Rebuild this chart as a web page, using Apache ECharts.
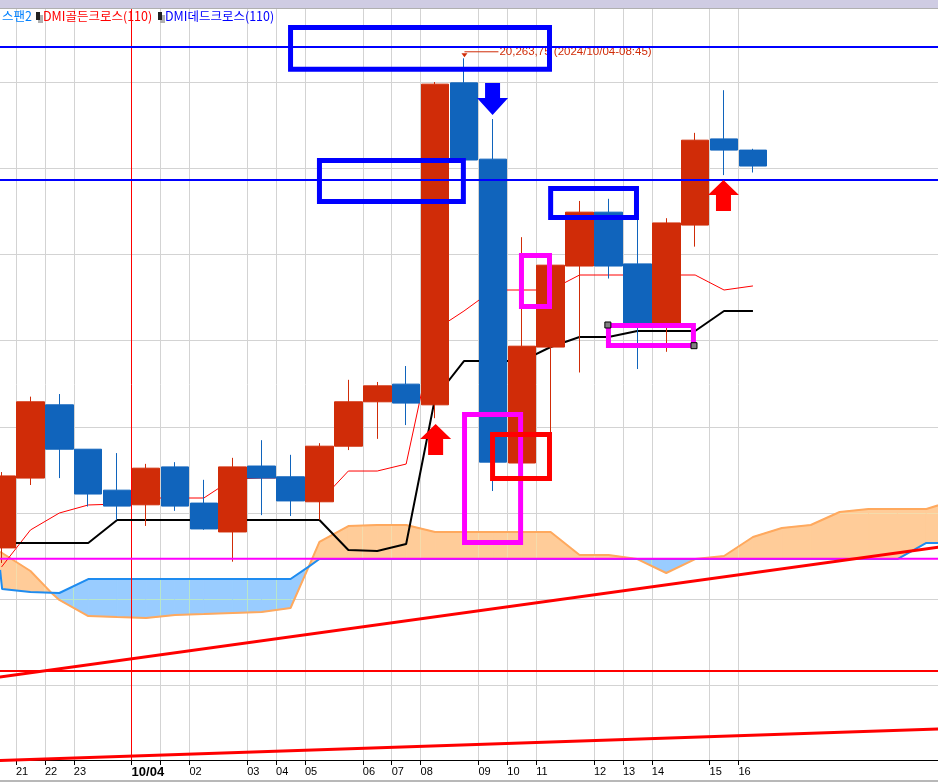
<!DOCTYPE html>
<html><head><meta charset="utf-8">
<style>html,body{margin:0;padding:0;background:#fff}#c{width:938px;height:782px}</style>
<script src="https://cdn.jsdelivr.net/npm/echarts@6/dist/echarts.min.js"></script>
</head><body><div id="c"></div>
<script>
// open, close, low, high
const candles = [
 [19979.75,20021.5,19971,20023.75],[20020.25,20064.5,20016.25,20067.5],[20062.75,20037,20020.25,20069],
 [20037,20011,20003.75,20037],[20013.25,20004,19996,20034.75],[20004.75,20026,19992.5,20028.5],
 [20026.75,20004,20001.25,20029.5],[20005.75,19990.75,19990.25,20019.25],[19989,20026.75,19971.75,20032],
 [20027.25,20020.25,19998.75,20042.25],[20021,20007,19998.25,20033.75],[20006.5,20038.75,19996,20040.5],
 [20038.75,20064.5,20036.5,20077.25],[20064.5,20073.75,20043,20076],[20074.75,20063.75,20051,20085.25],
 [20062.75,20248.75,20055,20250],[20249.5,20204.75,20204.75,20263.75],[20205.25,20029.5,20012.75,20228.5],
 [20029,20096.75,20029,20160],[20096.25,20143.75,20042.25,20143.75],[20143.25,20174.5,20081.5,20181],
 [20174.5,20143.25,20136,20182.25],[20144.5,20109.75,20083.5,20171],[20109.75,20168.25,20093.5,20171],
 [20167,20216.25,20154.5,20220.5],[20217,20210.5,20196,20245.25],[20210.5,20201.25,20197.5,20211.25]
];
const tenkan = [19968.7,19990.15,20000,20004.65,20005.2,20008.7,20008.7,20008.7,20019.7,20020.3,20020.3,20006.4,20024.35,20024.35,20028.4,20106.15,20117.15,20129.35,20129.35,20129.35,20138.05,20138.05,20138.05,20138.05,20138.05,20129.35,20131.7];
const kijun = [19982.6,19982.6,19982.6,19982.6,19995.95,19995.95,19995.95,19995.95,19995.95,19995.95,19995.95,19995.95,19978.55,19978,19982,20066.7,20088.15,20088.15,20088.15,20096.3,20102.1,20102.1,20105.55,20105.55,20105.55,20117.15,20117.15];
const cloudIdx = [-0.05,0.02,1,1.72,2,3,4,5,6,7,8,9,10,10.63,11,12,13,14,15,16,17,18,19,20,21,22,23,24,25,26,27,28,29,30,31,32,33];
const spanA = [19977.4,19976.8,19966.35,19953.8,19949.55,19940.25,19939.65,19939.1,19940.85,19941.4,19942,19942.6,19944.9,19968.9,19983.2,19992.45,19993.05,19993.05,19989,19989,19989,19989,19989,19975.65,19975.65,19973.3,19965.2,19973.3,19975.05,19986.1,19991.3,19993.05,20000.6,20002.3,20002.3,20002.3,20007.55];
const spanB = [19966.95,19955.9,19954.2,19953.8,19953.6,19961.7,19961.7,19961.7,19961.7,19961.7,19961.7,19961.7,19961.7,19968.9,19973.3,19973.3,19973.3,19973.3,19973.3,19973.3,19973.3,19973.3,19973.3,19973.3,19973.3,19973.3,19973.3,19973.3,19973.3,19973.3,19973.3,19973.3,19973.3,19973.3,19973.3,19982.6,19982.6];
// null: no tick, '': tick without a label
const hourLabels = [null,'21','22','23',null,'{b|10/04}','','02',null,'03','04','05',null,'06','07','08',null,'09','10','11',null,'12','13','14',null,'15','16',null,null,null,null,null,null,null];
const priceLevels = [19900,19950,20000,20050,20100,20150,20200,20250];
const hLinesBlue = [20270.3,20193.15];
const hLineMagenta = [19973.5];
const hLineRed = [19908.35];
const trendA = [[-0.5,19903.85],[32.5,19980.35]];
const trendB = [[-0.5,19856.15],[32.5,19874.7]];
const daySeparator = [[4.497,19856.7],[4.497,20292.3]];
const rectsBlue = [[10,20281.6,18.96,20257.4],[11,20204.45,15.98,20180.7],[19,20188.2,21.97,20171.4]];
const rectsMagenta = [[17.99,20149.35,18.96,20119.8],[21,20108.75,23.94,20097.15],[16.02,20057.15,17.96,19982.9]];
const rectsRed = [[16.99,20045.55,18.96,20020]];
const handles = [[20.98,20109.05],[23.96,20097.05]];
const arrowsUp = [[15.02,20042.65],[24.98,20184.15]];
const arrowsDown = [[16.99,20240.15]];
const peak = [[16,20263.75,'20,263,75 (2024/10/04-08:45)']];
const legendTexts = ['스팬2','DMI골든크로스(110)','DMI데드크로스(110)'];

const RED='#D02C08',BLUE='#1064BC',GRID='#D3D3D3',LATIN='"Liberation Sans",sans-serif';
const bandCats = Array.from({length:33},(_,i)=>String(i));
const hourCats = hourLabels.map((l,i)=>String(i));
const hasTick = i=>hourLabels[i]!==null;
const cloudRows = cloudIdx.map((x,i)=>[x,spanA[i],spanB[i]]);
const zip = (ys)=>cloudIdx.map((x,i)=>[x,ys[i]]);
const hline = (y)=>[[-0.5,y],[32.5,y]];
const lineS = (name,data,color,width,z,xi)=>({name,type:'line',xAxisIndex:xi,yAxisIndex:0,data,z,showSymbol:false,symbol:'none',animation:false,silent:true,lineStyle:{color,width,cap:'butt'}});
const rectS = (data,color,width)=>({type:'custom',xAxisIndex:1,yAxisIndex:0,z:9,silent:true,animation:false,data,
  renderItem:(p,api)=>{const a=api.coord([api.value(0),api.value(1)]),b=api.coord([api.value(2),api.value(3)]);
    return {type:'rect',shape:{x:a[0],y:a[1],width:b[0]-a[0],height:b[1]-a[1]},style:{fill:'none',stroke:color,lineWidth:width}};}});
const upPath='path://M15.5 0L31 15L23 15L23 31L8 31L8 15L0 15Z', downPath='path://M8 0L23 0L23 15L31 15L15.5 32L0 15L8 15Z';

const series = [
 {type:'custom',xAxisIndex:1,yAxisIndex:0,z:1,silent:true,animation:false,data:cloudRows,
  renderItem:(p,api)=>{const i=p.dataIndex; if(i>=cloudRows.length-1) return null;
    const r=cloudRows[i],n=cloudRows[i+1];
    const pts=[[r[0],r[1]],[n[0],n[1]],[n[0],n[2]],[r[0],r[2]]].map(q=>api.coord(q));
    const up=r[1]+n[1]>=r[2]+n[2], fill=up?'#FFCC99':'#99CCFF', tint=up?'#F4DCAC':'#B8E6CC';
    const lines=[];
    hourLabels.forEach((l,k)=>{ if(l===null) return; const bx=k-0.5; if(bx<r[0]||bx>=n[0]) return;
      const a=api.coord([bx,20300]),b=api.coord([bx,19850]),x=Math.round(a[0]-0.5)+0.5;
      lines.push({type:'line',shape:{x1:x,y1:a[1],x2:x,y2:b[1]},style:{stroke:tint,lineWidth:1}}); });
    priceLevels.forEach(v=>{ const a=api.coord([r[0],v]),b=api.coord([n[0],v]),y=Math.round(a[1]-0.5)+0.5;
      lines.push({type:'line',shape:{x1:a[0],y1:y,x2:b[0],y2:y},style:{stroke:tint,lineWidth:1}}); });
    return {type:'group',children:[
      {type:'polygon',shape:{points:pts},style:{fill,stroke:fill,lineWidth:1}},
      {type:'group',clipPath:{type:'polygon',shape:{points:pts}},children:lines}]};}},
 lineS('spanA',zip(spanA),'#FFA95E',2,2,1),
 lineS('spanB',zip(spanB),'#1E8CF0',2,2,1),
 lineS('separator',daySeparator,'#FF0000',1,2,1),
 lineS('tenkan',tenkan,'#FF0000',1,3,0),
 lineS('kijun',kijun,'#000000',2,3,0),
 {type:'candlestick',xAxisIndex:0,yAxisIndex:0,z:4,barWidth:28,data:candles,animation:false,silent:true,
  itemStyle:{color:RED,color0:BLUE,borderColor:RED,borderColor0:BLUE,borderWidth:1}},
 {type:'custom',xAxisIndex:1,yAxisIndex:0,z:5,silent:true,animation:false,data:peak,
  renderItem:(p,api)=>{const c=api.coord([api.value(0),api.value(1)]),x=c[0]+0.5,y=c[1];
    return {type:'group',children:[
      {type:'line',shape:{x1:x,y1:y-6.5,x2:x+34,y2:y-6.5},style:{stroke:RED,lineWidth:1}},
      {type:'polygon',shape:{points:[[x-3,y-5],[x+3,y-5],[x,y-1]]},style:{fill:RED}},
      {type:'text',style:{x:x+35,y:y-6.5,text:peak[0][2],fill:RED,font:'11.5px '+LATIN,verticalAlign:'middle'}}]};}},
 lineS('blueA',hline(hLinesBlue[0]),'#0000FF',2,6,1),
 lineS('blueB',hline(hLinesBlue[1]),'#0000FF',2,6,1),
 lineS('magenta',hline(hLineMagenta[0]),'#FF00FF',2,6,1),
 lineS('redH',hline(hLineRed[0]),'#FF0000',2,6,1),
 lineS('trendA',trendA,'#FF0000',3,6,1),
 lineS('trendB',trendB,'#FF0000',3,6,1),
 {type:'scatter',xAxisIndex:1,yAxisIndex:0,z:7,silent:true,animation:false,data:arrowsUp,symbol:upPath,symbolSize:[31,31],itemStyle:{color:'#FF0000',opacity:1}},
 {type:'scatter',xAxisIndex:1,yAxisIndex:0,z:7,silent:true,animation:false,data:arrowsDown,symbol:downPath,symbolSize:[31,32],itemStyle:{color:'#0000FF',opacity:1}},
 rectS(rectsBlue,'#0000FF',5),
 rectS(rectsMagenta,'#FF00FF',5),
 rectS(rectsRed,'#FF0000',5),
 {type:'scatter',xAxisIndex:1,yAxisIndex:0,z:10,silent:true,animation:false,data:handles,symbol:'rect',symbolSize:6,itemStyle:{color:'#808080',borderColor:'#000',borderWidth:1,opacity:1}}
];

const option = {
 animation:false,backgroundColor:'#fff',
 grid:[{left:-12.9,width:953.7,top:-4.2,height:775.8,outerBoundsMode:'none',containLabel:false},{left:-12.9,width:953.7,top:9,height:751,outerBoundsMode:'none',containLabel:false}],
 xAxis:[
  {type:'category',gridIndex:0,data:bandCats,show:false,boundaryGap:true},
  {type:'value',gridIndex:0,min:-0.5,max:32.5,show:false,position:'top',splitLine:{show:false}},
  {type:'category',gridIndex:1,data:hourCats,boundaryGap:false,
   axisLine:{show:true,onZero:false,lineStyle:{color:'#000',width:1}},
   axisTick:{show:true,length:5,interval:hasTick,lineStyle:{color:'#000',width:1}},
   splitLine:{show:true,interval:hasTick,lineStyle:{color:GRID,width:1}},
   axisLabel:{show:true,interval:hasTick,align:'left',margin:6,color:'#000',fontSize:11,fontFamily:LATIN,hideOverlap:false,
     showMinLabel:true,showMaxLabel:true,
     formatter:(v,i)=>hourLabels[+v]||'',
     rich:{b:{fontFamily:LATIN,fontSize:13,fontWeight:'bold',color:'#000'}}}}
 ],
 yAxis:[
  {type:'value',gridIndex:0,min:19850,max:20300,interval:50,axisLine:{show:false},axisTick:{show:false},axisLabel:{show:false},
   splitLine:{show:true,showMinLine:false,showMaxLine:false,lineStyle:{color:GRID,width:1}}},
  {type:'value',gridIndex:1,min:0,max:1,show:false}
 ],
 graphic:[
  {type:'rect',z:100,shape:{x:0,y:0,width:938,height:8},style:{fill:'#CFCCE3'}},
  {type:'rect',z:100,shape:{x:0,y:8,width:938,height:1},style:{fill:'#B0B0B0'}},
  {type:'rect',z:100,shape:{x:0,y:780,width:938,height:2},style:{fill:'#B8B8B8'}},
  {type:'text',z:100,style:{x:2,y:16,text:legendTexts[0],fill:'#0080FF',font:'12.5px "Noto Sans CJK KR"',verticalAlign:'middle'}},
  {type:'rect',z:100,shape:{x:38,y:15,width:5,height:8},style:{fill:'#B0B0B0'}},
  {type:'rect',z:100,shape:{x:36,y:12,width:4,height:8},style:{fill:'#222'}},
  {type:'text',z:100,style:{x:43,y:16,text:legendTexts[1],fill:'#FF0000',font:'12.5px "Noto Sans CJK KR"',verticalAlign:'middle'}},
  {type:'rect',z:100,shape:{x:160,y:15,width:5,height:8},style:{fill:'#B0B0B0'}},
  {type:'rect',z:100,shape:{x:158,y:12,width:4,height:8},style:{fill:'#222'}},
  {type:'text',z:100,style:{x:165,y:16,text:legendTexts[2],fill:'#0000FF',font:'12.5px "Noto Sans CJK KR"',verticalAlign:'middle'}}
 ],
 series
};
echarts.init(document.getElementById('c'),null,{renderer:'canvas'}).setOption(option);
</script></body></html>
